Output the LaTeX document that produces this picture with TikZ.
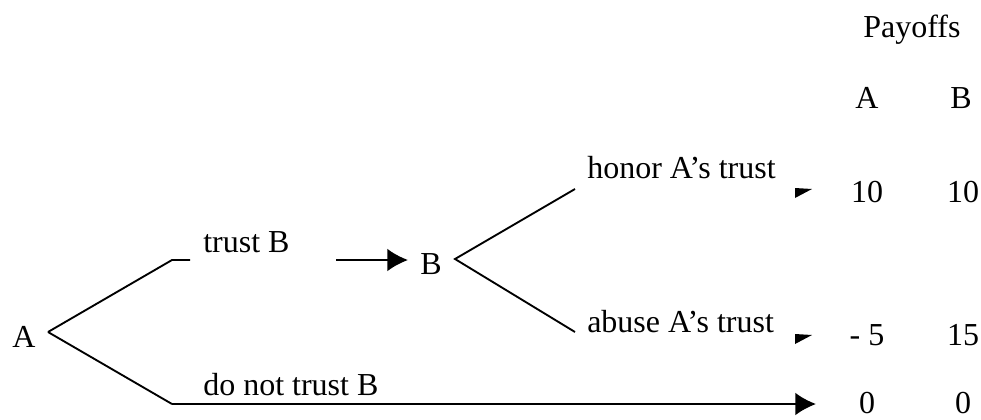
\documentclass[tikz,border=0pt]{standalone}
\usepackage{fontspec}
\setmainfont{Liberation Serif}
\usetikzlibrary{arrows.meta}

\begin{document}
\begin{tikzpicture}[x=0.75pt, y=-0.75pt,
    branch/.style={black, line width=1.4pt},
    move/.style={branch, -{Latex[length=15.5pt, width=17pt]}},
    label/.style={font=\fontsize{24}{28}\selectfont, inner sep=0pt, anchor=base west},
    payoff/.style={label, anchor=base}]

\useasboundingbox (0, 0) rectangle (981, 419);

% PLAYERS
  \node[label] (pA) at ( 12, 347) {A};
  \node[label] (pB) at (420, 274) {B};

% FORKS
  \coordinate (forkA)  at ( 48, 332);
  \coordinate (trustA) at (172, 260);
  \coordinate (trustE) at (190, 260);
  \coordinate (notA)   at (172, 404);
  \coordinate (notE)   at (816, 404);
  \coordinate (forkB)  at (455, 259);
  \coordinate (honorB) at (575, 189);
  \coordinate (abuseB) at (575, 332);
  \coordinate (moveS)  at (336, 260);
  \coordinate (moveE)  at (408, 260);

% BRANCHES OF A
  \draw[branch] (forkA) -- (trustA) -- (trustE);
  \draw[branch] (forkA) -- (notA);
  \draw[move] (notA) -- (notE);
  \draw[move] (moveS) -- (moveE);
  \node[label] (trust) at (203, 252) {trust B};
  \node[label] (nottrust) at (203, 395) {do not trust B};

% BRANCHES OF B
  \draw[branch] (honorB) -- (forkB) -- (abuseB);
  \node[label] (honor) at (587, 178) {honor A’s trust};
  \node[label] (abuse) at (587, 332) {abuse A’s trust};

% tips
  \fill[black] (795, 188) -- (812, 189) -- (795, 198) -- cycle;
  \fill[black] (795, 334) -- (812, 335) -- (795, 344) -- cycle;

% PAYOFFS
  \node[payoff] (payoffs) at (912,  37) {Payoffs};
  \node[payoff] (headA) at (867, 108) {A};
  \node[payoff] (headB) at (961, 108) {B};
  \foreach \y/\pa/\pb in {202/10/10, 345/- 5/15, 413/0/0}
  {
      \node[payoff] at (867, \y) {\pa};
      \node[payoff] at (963, \y) {\pb};
  }
\end{tikzpicture}
\end{document}
